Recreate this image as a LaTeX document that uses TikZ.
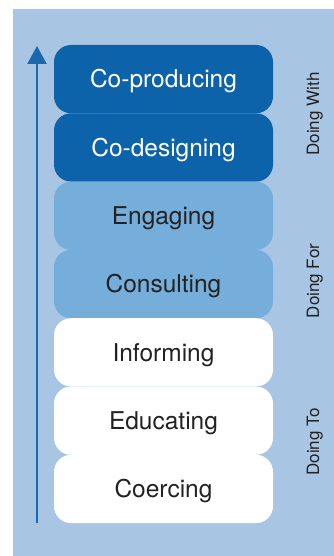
\documentclass[tikz,border=0pt]{standalone}
\usepackage{fontspec}
\setmainfont{TeX Gyre Heros}
\usetikzlibrary{arrows.meta}
\definecolor{panelbg}{HTML}{A8C5E3}
\definecolor{darkbox}{HTML}{0D63A9}
\definecolor{midbox}{HTML}{76AEDB}
\definecolor{arrowc}{HTML}{1A68AE}
\definecolor{txtc}{HTML}{222222}
\tikzset{
  stagebox/.style={rounded corners=17pt},
  stagelabel/.style={anchor=base, inner sep=0pt, font=\fontsize{24.5}{28}\selectfont},
  sidelabel/.style={anchor=base, rotate=90, inner sep=0pt, text=txtc, font=\fontsize{17}{20}\selectfont},
}
\begin{document}
\begin{tikzpicture}[x=1pt,y=-1pt]
\useasboundingbox (0,0) rectangle (334,556);
\fill[white] (0,0) rectangle (334,556);
\fill[panelbg] (13,9) rectangle (334,556);
% boxes
\def\bh{68.3}
\foreach \i/\col/\tc/\txt/\nm in {
  0/darkbox/white/Co-producing/coprod,
  1/darkbox/white/Co-designing/codes,
  2/midbox/txtc/Engaging/eng,
  3/midbox/txtc/Consulting/cons,
  4/white/txtc/Informing/inf,
  5/white/txtc/Educating/edu,
  6/white/txtc/Coercing/coer}{
  \pgfmathsetmacro{\yt}{45+\i*\bh}
  \pgfmathsetmacro{\yb}{45+(\i+1)*\bh}
  \pgfmathsetmacro{\yc}{45+(\i+0.5)*\bh+8.8}
  \fill[\col, stagebox] (54,\yt) rectangle (273,\yb);
  \node[stagelabel, text=\tc] (\nm) at (163.5,\yc) {\txt};
}
% arrow
\coordinate (arrowbot) at (37,523);
\coordinate (arrowtop) at (37,46);
\draw[arrowc, line width=2pt, -{Triangle[width=19pt,length=18pt]}] (arrowbot) -- (arrowtop);
% side labels
\node[sidelabel] (dwith) at (319,114) {Doing With};
\node[sidelabel] (dfor) at (319,281) {Doing For};
\node[sidelabel] (dto) at (319,442) {Doing To};
\end{tikzpicture}
\end{document}
